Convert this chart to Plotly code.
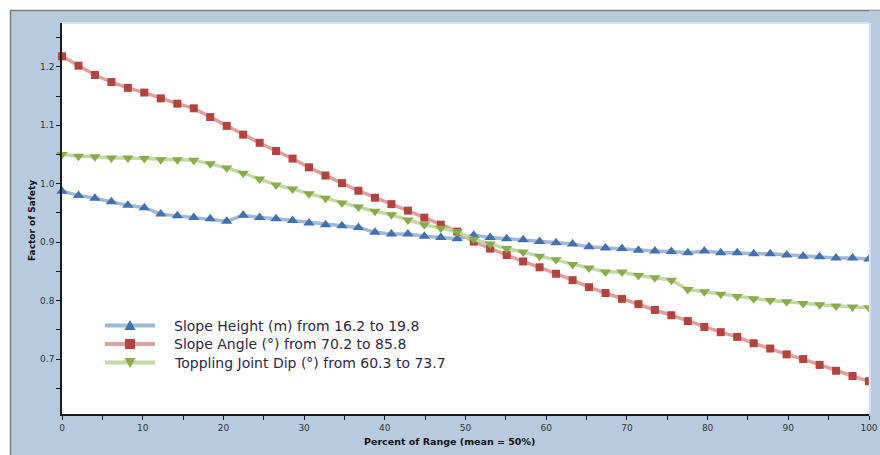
import plotly.graph_objects as go

# x positions (percent of range), 50 samples
pct = [0, 2.04, 4.08, 6.12, 8.16, 10.20, 12.24, 14.29, 16.33, 18.37,
       20.41, 22.45, 24.49, 26.53, 28.57, 30.61, 32.65, 34.69, 36.73, 38.78,
       40.82, 42.86, 44.90, 46.94, 48.98, 51.02, 53.06, 55.10, 57.14, 59.18,
       61.22, 63.27, 65.31, 67.35, 69.39, 71.43, 73.47, 75.51, 77.55, 79.59,
       81.63, 83.67, 85.71, 87.76, 89.80, 91.84, 93.88, 95.92, 97.96, 100]

slope_height = [0.987, 0.980, 0.975, 0.969, 0.963, 0.959, 0.948, 0.945, 0.942, 0.940,
                0.936, 0.946, 0.942, 0.940, 0.937, 0.933, 0.930, 0.928, 0.925, 0.917,
                0.914, 0.914, 0.910, 0.908, 0.906, 0.912, 0.908, 0.906, 0.904, 0.901,
                0.899, 0.897, 0.892, 0.890, 0.889, 0.886, 0.885, 0.884, 0.882, 0.885,
                0.882, 0.882, 0.880, 0.880, 0.878, 0.876, 0.875, 0.873, 0.873, 0.871]

slope_angle = [1.218, 1.202, 1.186, 1.174, 1.164, 1.156, 1.146, 1.137, 1.129, 1.114,
               1.099, 1.084, 1.070, 1.056, 1.043, 1.028, 1.014, 1.001, 0.988, 0.976,
               0.965, 0.954, 0.942, 0.930, 0.918, 0.901, 0.889, 0.878, 0.867, 0.857,
               0.846, 0.835, 0.823, 0.813, 0.803, 0.794, 0.784, 0.775, 0.765, 0.755,
               0.746, 0.738, 0.727, 0.718, 0.708, 0.700, 0.690, 0.680, 0.671, 0.662]

toppling_dip = [1.050, 1.047, 1.046, 1.044, 1.044, 1.043, 1.041, 1.041, 1.040, 1.034,
                1.027, 1.018, 1.008, 0.998, 0.991, 0.983, 0.975, 0.967, 0.960, 0.953,
                0.947, 0.938, 0.930, 0.924, 0.918, 0.905, 0.897, 0.889, 0.883, 0.876,
                0.870, 0.862, 0.856, 0.849, 0.849, 0.843, 0.839, 0.835, 0.819, 0.815,
                0.811, 0.807, 0.803, 0.800, 0.798, 0.795, 0.793, 0.791, 0.789, 0.788]

names = ["Slope Height (m) from 16.2 to 19.8",
         "Slope Angle (°) from 70.2 to 85.8",
         "Toppling Joint Dip (°) from 60.3 to 73.7"]

x_ticks = [0, 10, 20, 30, 40, 50, 60, 70, 80, 90, 100]
y_ticks = [0.7, 0.8, 0.9, 1.0, 1.1, 1.2]
y_tick_text = ["0.7", "0.8", "0.9", "1.0", "1.1", "1.2"]

FRAME = "#b8cadf"
FONT = "DejaVu Sans"

W, H = 880, 455
L, R, T, B = 62, 11, 23, 41
pw, ph = W - L - R, H - T - B


def px(p):
    return (p - L) / pw


def py(p):
    return (H - B - p) / ph


series = [
    (slope_height, names[0], "#a0b9d9", "#4371ad", "triangle-up", 10),
    (slope_angle, names[1], "#dda09e", "#b3433f", "square", 8),
    (toppling_dip, names[2], "#c4d8a3", "#8aab4a", "triangle-down", 10),
]

fig = go.Figure()
for ys, nm, lc, mc, sym, sz in series:
    fig.add_trace(go.Scatter(
        x=pct, y=ys, name=nm, mode="lines+markers",
        line=dict(color=lc, width=3.5),
        marker=dict(color=mc, symbol=sym, size=sz, line=dict(width=0)),
        cliponaxis=False, showlegend=False,
    ))

shapes = [
    dict(type="rect", xref="paper", yref="paper", x0=px(0), x1=px(W), y0=py(10), y1=py(0),
         fillcolor="white", line=dict(width=0), layer="below"),
    dict(type="rect", xref="paper", yref="paper", x0=px(0), x1=px(10), y0=py(H), y1=py(0),
         fillcolor="white", line=dict(width=0), layer="below"),
    dict(type="line", xref="paper", yref="paper", x0=px(10), x1=px(W), y0=py(10.5), y1=py(10.5),
         line=dict(color="#7d7d7d", width=1.5), layer="below"),
    dict(type="line", xref="paper", yref="paper", x0=px(10.5), x1=px(10.5), y0=py(H), y1=py(10),
         line=dict(color="#7d7d7d", width=1.5), layer="below"),
    # right frame strip over the plot edge (clips the last markers like the reference)
    dict(type="rect", xref="paper", yref="paper", x0=1, x1=px(W), y0=0.002, y1=py(10.5),
         fillcolor=FRAME, line=dict(width=0), layer="above"),
    dict(type="line", xref="paper", yref="paper", x0=0, x1=1, y0=1, y1=1,
         line=dict(color="#dbe4ef", width=2), layer="below"),
    dict(type="line", xref="paper", yref="paper", x0=1.001, x1=1.001, y0=0.002, y1=1,
         line=dict(color="#dbe4ef", width=2), layer="above"),
]

annotations = [
    dict(text="<b>Percent of Range (mean = 50%)</b>", xref="paper", yref="paper",
         x=px(449), y=py(441), showarrow=False, font=dict(family=FONT, size=9.5, color="#111"),
         xanchor="center", yanchor="middle"),
    dict(text="<b>Factor of Safety</b>", xref="paper", yref="paper",
         x=px(32), y=py(221), showarrow=False, textangle=-90,
         font=dict(family=FONT, size=9, color="#111"), xanchor="center", yanchor="middle"),
]

# legend (drawn inside the plot area)
leg_rows = [325.5, 344, 362.5]
lx0, lx1, lxm, ltx = 105, 155, 130, 172
for (ys, nm, lc, mc, sym, sz), ry in zip(series, leg_rows):
    shapes.append(dict(type="line", xref="paper", yref="paper", x0=px(lx0), x1=px(lx1),
                       y0=py(ry), y1=py(ry), line=dict(color=lc, width=4), layer="above"))
    if sym == "triangle-up":
        path = "M{},{} L{},{} L{},{} Z".format(px(lxm - 5.5), py(ry + 4.5), px(lxm + 5.5), py(ry + 4.5),
                                              px(lxm), py(ry - 5.5))
    elif sym == "triangle-down":
        path = "M{},{} L{},{} L{},{} Z".format(px(lxm - 5.5), py(ry - 4.5), px(lxm + 5.5), py(ry - 4.5),
                                              px(lxm), py(ry + 5.5))
    else:
        path = "M{},{} L{},{} L{},{} L{},{} Z".format(px(lxm - 5), py(ry - 5), px(lxm + 5), py(ry - 5),
                                                     px(lxm + 5), py(ry + 5), px(lxm - 5), py(ry + 5))
    shapes.append(dict(type="path", xref="paper", yref="paper", path=path,
                       fillcolor=mc, line=dict(width=0), layer="above"))
    annotations.append(dict(text=nm, xref="paper", yref="paper", x=px(ltx), y=py(ry),
                            xanchor="left", yanchor="middle", showarrow=False,
                            font=dict(family=FONT, size=14, color="#2c2848")))

fig.update_layout(
    width=W, height=H, autosize=False,
    margin=dict(l=L, r=R, t=T, b=B, pad=0, autoexpand=False),
    paper_bgcolor=FRAME, plot_bgcolor="white",
    font=dict(family=FONT, size=9, color="#333"),
    showlegend=False,
    shapes=shapes, annotations=annotations,
    xaxis=dict(range=[0, 100], tickvals=x_ticks, ticktext=[str(v) for v in x_ticks],
               automargin=False,
               showgrid=False, zeroline=False, showline=True, linecolor="#1a1a1a", linewidth=1.5,
               ticks="outside", ticklen=4, tickcolor="#1a1a1a",
               minor=dict(dtick=5, tick0=0, ticks="outside", ticklen=4, tickcolor="#1a1a1a", showgrid=False),
               tickfont=dict(family=FONT, size=9, color="#333")),
    yaxis=dict(range=[0.606, 1.275], tickvals=y_ticks, ticktext=y_tick_text,
               automargin=False,
               showgrid=False, zeroline=False, showline=True, linecolor="#1a1a1a", linewidth=1.5,
               ticks="outside", ticklen=4, tickcolor="#1a1a1a",
               minor=dict(dtick=0.05, tick0=0, ticks="outside", ticklen=4, tickcolor="#1a1a1a", showgrid=False),
               tickfont=dict(family=FONT, size=9, color="#333")),
)

fig.write_html(
    "out.html",
    config={"displayModeBar": False, "responsive": False},
    default_width="880px", default_height="455px",
    post_script="document.body.style.margin='0';document.body.style.padding='0';"
                "document.body.style.overflow='hidden';document.documentElement.style.overflow='hidden';",
)
